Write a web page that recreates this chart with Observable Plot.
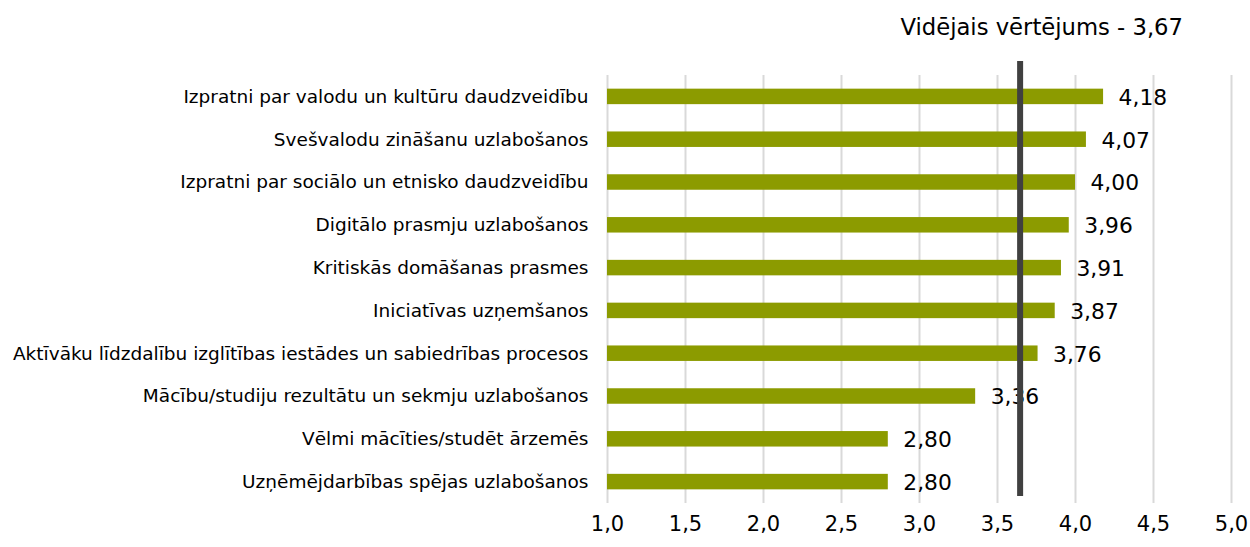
<!DOCTYPE html>
<html>
<head>
<meta charset="utf-8">
<script src="https://cdn.jsdelivr.net/npm/d3@7"></script>
<script src="https://cdn.jsdelivr.net/npm/@observablehq/plot@0.6"></script>
<style>
  html, body { margin: 0; padding: 0; background: #fff; }
  #wrap { position: relative; width: 1250px; height: 547px; font-family: "DejaVu Sans", sans-serif; }
  #title { position: absolute; right: 67px; top: 14px; font-size: 22.7px; color: #000; white-space: nowrap; line-height: 1.2; }
  #chart { position: absolute; left: 0; top: 0; }
</style>
</head>
<body>
<div id="wrap">
  <div id="chart"></div>
  <div id="title"></div>
</div>
<script>
const categories = [
  "Izpratni par valodu un kultūru daudzveidību",
  "Svešvalodu zināšanu uzlabošanos",
  "Izpratni par sociālo un etnisko daudzveidību",
  "Digitālo prasmju uzlabošanos",
  "Kritiskās domāšanas prasmes",
  "Iniciatīvas uzņemšanos",
  "Aktīvāku līdzdalību izglītības iestādes un sabiedrības procesos",
  "Mācību/studiju rezultātu un sekmju uzlabošanos",
  "Vēlmi mācīties/studēt ārzemēs",
  "Uzņēmējdarbības spējas uzlabošanos"
];
const values = [4.18, 4.07, 4.00, 3.96, 3.91, 3.87, 3.76, 3.36, 2.80, 2.80];
const averageLabel = "3,67";
const averagePosition = 3.645;
const titleText = "Vidējais vērtējums - " + averageLabel;
const xTicks = [1.0, 1.5, 2.0, 2.5, 3.0, 3.5, 4.0, 4.5, 5.0];

const data = categories.map((c, i) => ({cat: c, v: values[i]}));
const comma = (f) => (d) => d3.format(f)(d).replace(".", ",");

document.getElementById("title").textContent = titleText;

const chart = Plot.plot({
  width: 1250,
  height: 547,
  marginLeft: 607,
  marginRight: 19,
  marginTop: 75,
  marginBottom: 44,
  style: {fontFamily: "DejaVu Sans, sans-serif", color: "#000", background: "#fff"},
  x: {domain: [1, 5], label: null},
  y: {domain: categories, paddingInner: 0.638, paddingOuter: 0.319, align: 0.5, round: false, label: null},
  marks: [
    Plot.gridX(xTicks, {stroke: "#d9d9d9", strokeOpacity: 1, strokeWidth: 2}),
    Plot.barX(data, {y: "cat", x1: () => xTicks[0], x2: "v", fill: "#8c9b00"}),
    Plot.text(data, {y: "cat", x: "v", text: (d) => comma(".2f")(d.v), dx: 15, dy: 1, textAnchor: "start", fontSize: 21.8, fill: "#000"}),
    Plot.ruleX([averagePosition], {stroke: "#404040", strokeWidth: 6, insetTop: -14, insetBottom: 7}),
    Plot.axisX(xTicks, {label: null, tickSize: 0, tickPadding: 13, fontSize: 21, tickFormat: comma(".1f"), fill: "#000"}),
    Plot.axisY({label: null, tickSize: 0, tickPadding: 19, fontSize: 18.5, fill: "#000"})
  ]
});
document.getElementById("chart").appendChild(chart);
</script>
</body>
</html>
